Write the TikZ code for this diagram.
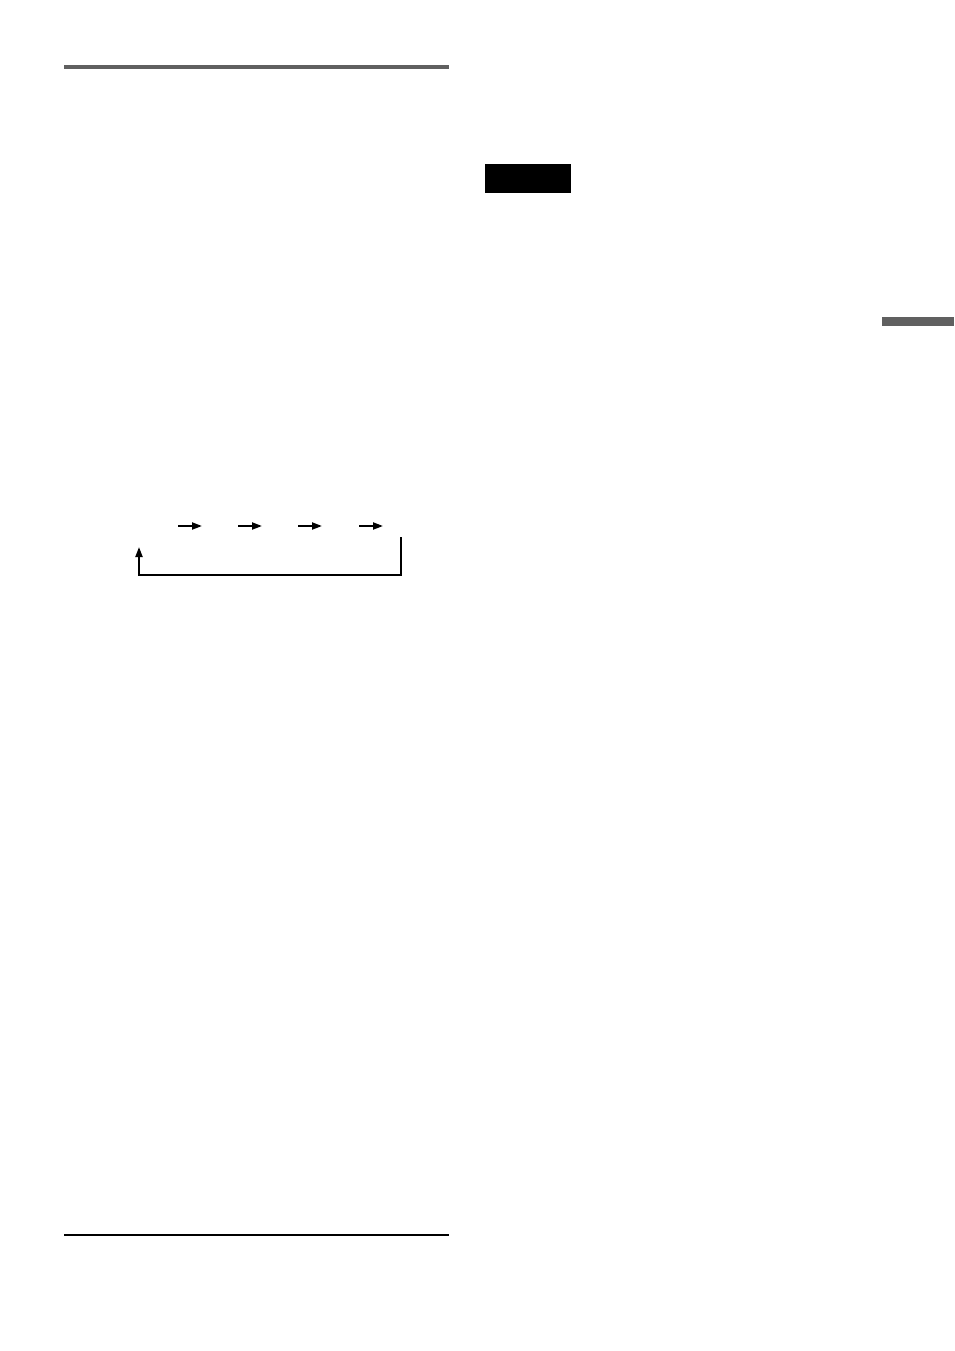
\documentclass[tikz,border=0pt]{standalone}
\usetikzlibrary{arrows.meta}
\definecolor{rulegray}{HTML}{606060}
\tikzset{
  flow/.style={line width=2pt, -{Triangle[length=10pt,width=7pt]}},
  loopline/.style={line width=2pt},
}
\begin{document}
\begin{tikzpicture}[x=1pt,y=-1pt]
\useasboundingbox[fill=white] (0,0) rectangle (954,1351);
% top heading rule
\fill[rulegray] (64,65) rectangle (449,69);
% black label box
\node[fill=black, minimum width=86pt, minimum height=29pt, inner sep=0pt, anchor=north west] (notebox) at (485,164) {};
% gray side tab
\fill[rulegray] (882,317) rectangle (954,326);
% arrow chain
\coordinate (a1s) at (178,526); \coordinate (a1e) at (202,526);
\coordinate (a2s) at (238,526); \coordinate (a2e) at (262,526);
\coordinate (a3s) at (298,526); \coordinate (a3e) at (322,526);
\coordinate (a4s) at (359,526); \coordinate (a4e) at (383,526);
\draw[flow] (a1s) -- (a1e);
\draw[flow] (a2s) -- (a2e);
\draw[flow] (a3s) -- (a3e);
\draw[flow] (a4s) -- (a4e);
% return loop
\coordinate (lstart) at (401,537);
\coordinate (lend) at (139,547);
\draw[loopline, -{Triangle[length=10pt,width=7pt]}] (lstart) -- (401,575) -- (139,575) -- (lend);
% bottom rule
\draw[line width=1.2pt] (64,1235) -- (449,1235);
\end{tikzpicture}
\end{document}
